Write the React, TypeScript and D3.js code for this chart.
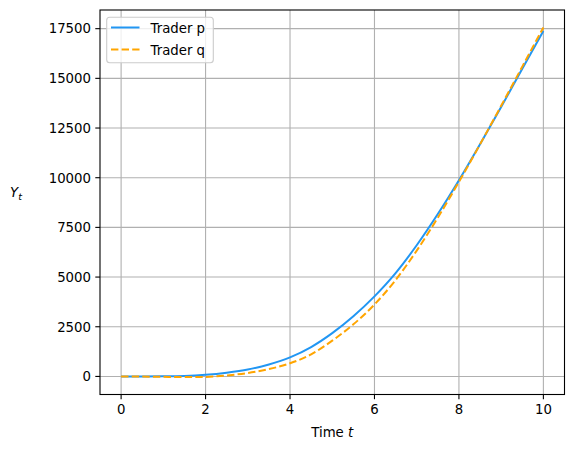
import React from "react";
import * as d3 from "d3";

// values
const times = [0, 0.5, 1, 1.5, 2, 2.5, 3, 3.5, 4, 4.5, 5, 5.5, 6, 6.5, 7, 7.5, 8, 8.5, 9, 9.5, 10];
const traderP = [0, 0, 5, 25, 85, 190, 345, 600, 960, 1480, 2180, 3030, 4030, 5200, 6600, 8170, 9870, 11680, 13560, 15480, 17380];
const traderQ = [0, -8, -20, -30, -25, 50, 170, 370, 660, 1110, 1800, 2620, 3620, 4850, 6330, 7990, 9790, 11680, 13620, 15590, 17560];
const xTicks = [0, 2, 4, 6, 8, 10];
const yTicks = [0, 2500, 5000, 7500, 10000, 12500, 15000, 17500];

const W = 574;
const H = 449;
const margin = { top: 10, right: 9.5, bottom: 54.5, left: 100 };
const font = "DejaVu Sans";
const fs = 13.3;
const gridColor = "#b0b0b0";

export default function App() {
  const x0 = margin.left;
  const x1 = W - margin.right;
  const y0 = H - margin.bottom;
  const y1 = margin.top;

  const xScale = d3.scaleLinear().domain([-0.5, 10.5]).range([x0, x1]);

  // matplotlib style 5% margins on the data range
  const all = traderP.concat(traderQ);
  const lo = d3.min(all) as number;
  const hi = d3.max(all) as number;
  const pad = (hi - lo) * 0.05;
  const yScale = d3.scaleLinear().domain([lo - pad, hi + pad]).range([y0, y1]);

  const line = d3
    .line<number>()
    .x((d, i) => xScale(times[i]))
    .y((d) => yScale(d))
    .curve(d3.curveMonotoneX);

  return (
    <svg
      width={W}
      height={H}
      style={{ position: "fixed", left: 0, top: 0, background: "#fff" }}
      fontFamily={font}
    >
      {/* grid */}
      {xTicks.map((t) => (
        <line key={"gx" + t} x1={xScale(t)} x2={xScale(t)} y1={y1} y2={y0} stroke={gridColor} strokeWidth={1.1} />
      ))}
      {yTicks.map((t) => (
        <line key={"gy" + t} x1={x0} x2={x1} y1={yScale(t)} y2={yScale(t)} stroke={gridColor} strokeWidth={1.1} />
      ))}

      {/* series */}
      <path d={line(traderP) || ""} fill="none" stroke="#2196f3" strokeWidth={2} />
      <path d={line(traderQ) || ""} fill="none" stroke="#ffa500" strokeWidth={2} strokeDasharray="7.4 3.2" />

      {/* frame */}
      <rect x={x0} y={y1} width={x1 - x0} height={y0 - y1} fill="none" stroke="#000" strokeWidth={1.1} />

      {/* x axis */}
      {xTicks.map((t) => (
        <g key={"xt" + t}>
          <line x1={xScale(t)} x2={xScale(t)} y1={y0} y2={y0 + 4.7} stroke="#000" strokeWidth={1.1} />
          <text x={xScale(t)} y={y0 + 19.5} textAnchor="middle" fontSize={fs} fill="#000">
            {t}
          </text>
        </g>
      ))}
      <text x={(x0 + x1) / 2} y={437} textAnchor="middle" fontSize={fs} fill="#000">
        Time <tspan fontStyle="italic">t</tspan>
      </text>

      {/* y axis */}
      {yTicks.map((t) => (
        <g key={"yt" + t}>
          <line x1={x0 - 4.7} x2={x0} y1={yScale(t)} y2={yScale(t)} stroke="#000" strokeWidth={1.1} />
          <text x={x0 - 9} y={yScale(t) + 4.8} textAnchor="end" fontSize={fs} fill="#000">
            {t}
          </text>
        </g>
      ))}
      <text x={10} y={197} fontSize={fs} fill="#000">
        <tspan fontStyle="italic">Y</tspan>
        <tspan fontStyle="italic" fontSize={9.5} dy={3}>t</tspan>
      </text>

      {/* legend */}
      <g>
        <rect x={106.7} y={17.3} width={106.6} height={45.4} rx={3} fill="#fff" fillOpacity={0.8} stroke="#cccccc" strokeWidth={1.1} />
        <line x1={111} x2={139.5} y1={27.5} y2={27.5} stroke="#2196f3" strokeWidth={2} />
        <text x={150.5} y={32.5} fontSize={fs} fill="#000">Trader p</text>
        <line x1={111} x2={139.5} y1={49.5} y2={49.5} stroke="#ffa500" strokeWidth={2} strokeDasharray="7.4 3.2" />
        <text x={150.5} y={54.5} fontSize={fs} fill="#000">Trader q</text>
      </g>
    </svg>
  );
}
